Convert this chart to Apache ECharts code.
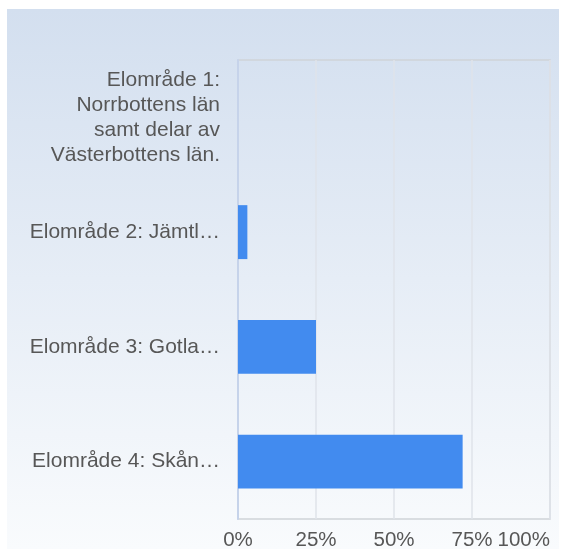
<!DOCTYPE html>
<html>
<head>
<meta charset="utf-8">
<script src="https://cdn.jsdelivr.net/npm/echarts@6/dist/echarts.min.js"></script>
<style>
  html, body { margin: 0; padding: 0; background: #ffffff; }
  #chart { width: 566px; height: 549px; }
</style>
</head>
<body>
<div id="chart"></div>
<script>
// Share of responses per electricity price area (percent)
const categories = [
  'Elområde 1:\nNorrbottens län\nsamt delar av\nVästerbottens län.',
  'Elområde 2: Jämtl…',
  'Elområde 3: Gotla…',
  'Elområde 4: Skån…'
];
const shares = [0, 3, 25, 72];
const percentTicks = [0, 25, 50, 75, 100];

const chart = echarts.init(document.getElementById('chart'), null, { renderer: 'canvas' });

chart.setOption({
  animation: false,
  backgroundColor: '#ffffff',
  graphic: [{
    type: 'rect',
    z: -10,
    shape: { x: 7, y: 9, width: 552, height: 540 },
    style: {
      fill: {
        type: 'linear', x: 0, y: 0, x2: 0, y2: 1,
        colorStops: [
          { offset: 0, color: '#d3dfef' },
          { offset: 1, color: '#f9fbfd' }
        ]
      }
    }
  }],
  grid: {
    left: 238, right: 16, top: 60, bottom: 30,
    outerBoundsMode: 'none',
    containLabel: false,
    show: true,
    borderColor: '#d0d3d8',
    borderWidth: 1.5,
    backgroundColor: 'transparent'
  },
  xAxis: {
    type: 'value',
    min: 0, max: 100, interval: 25,
    axisLine: { show: false },
    axisTick: { show: false },
    splitLine: { show: true, lineStyle: { color: '#dfe3ea', width: 1.5 } },
    axisLabel: {
      margin: 11,
      color: '#575757',
      fontFamily: 'Liberation Sans, Arial, sans-serif',
      fontSize: 20.5,
      alignMaxLabel: 'right',
      formatter: v => percentTicks.includes(v) ? v + '%' : ''
    }
  },
  yAxis: {
    type: 'category',
    inverse: true,
    data: categories,
    axisLine: { show: true, lineStyle: { color: '#c6d3ea', width: 2 } },
    axisTick: { show: false },
    splitLine: { show: false },
    axisLabel: {
      margin: 18,
      color: '#575757',
      fontFamily: 'Liberation Sans, Arial, sans-serif',
      fontSize: 21,
      lineHeight: 25,
      align: 'right'
    }
  },
  series: [{
    type: 'bar',
    data: shares,
    barCategoryGap: '53%',
    itemStyle: { color: '#428bef' }
  }]
});
</script>
</body>
</html>
